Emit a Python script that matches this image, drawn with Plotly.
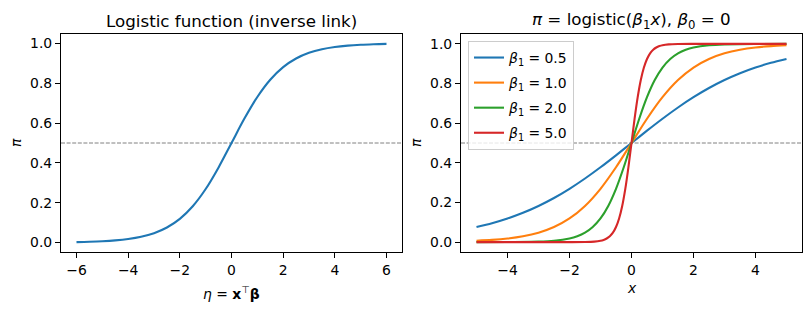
import plotly.graph_objects as go

# ---------------- data ----------------
eta = [-6, -5.5, -5, -4.5, -4, -3.5, -3, -2.5, -2, -1.5, -1, -0.5, 0,
       0.5, 1, 1.5, 2, 2.5, 3, 3.5, 4, 4.5, 5, 5.5, 6]
pi_eta = [0.0025, 0.0041, 0.0067, 0.0110, 0.0180, 0.0293, 0.0474, 0.0759, 0.1192, 0.1824, 0.2689, 0.3775, 0.5,
          0.6225, 0.7311, 0.8176, 0.8808, 0.9241, 0.9526, 0.9707, 0.9820, 0.9890, 0.9933, 0.9959, 0.9975]

x_b05 = [-5, -4.5, -4, -3.5, -3, -2.5, -2, -1.5, -1, -0.5, 0, 0.5, 1, 1.5, 2, 2.5, 3, 3.5, 4, 4.5, 5]
pi_b05 = [0.0759, 0.0953, 0.1192, 0.1480, 0.1824, 0.2227, 0.2689, 0.3208, 0.3775, 0.4378, 0.5,
          0.5622, 0.6225, 0.6792, 0.7311, 0.7773, 0.8176, 0.8520, 0.8808, 0.9047, 0.9241]

x_b10 = [-5, -4.5, -4, -3.5, -3, -2.5, -2, -1.5, -1, -0.5, 0, 0.5, 1, 1.5, 2, 2.5, 3, 3.5, 4, 4.5, 5]
pi_b10 = [0.0067, 0.0110, 0.0180, 0.0293, 0.0474, 0.0759, 0.1192, 0.1824, 0.2689, 0.3775, 0.5,
          0.6225, 0.7311, 0.8176, 0.8808, 0.9241, 0.9526, 0.9707, 0.9820, 0.9890, 0.9933]

x_b20 = [-5, -4, -3, -2.5, -2, -1.75, -1.5, -1.25, -1, -0.75, -0.5, -0.25, 0,
         0.25, 0.5, 0.75, 1, 1.25, 1.5, 1.75, 2, 2.5, 3, 4, 5]
pi_b20 = [0.0000, 0.0003, 0.0025, 0.0067, 0.0180, 0.0293, 0.0474, 0.0759, 0.1192, 0.1824, 0.2689, 0.3775, 0.5,
          0.6225, 0.7311, 0.8176, 0.8808, 0.9241, 0.9526, 0.9707, 0.9820, 0.9933, 0.9975, 0.9997, 1.0000]

x_b50 = [-5, -3, -2, -1.5, -1.2, -1, -0.9, -0.8, -0.7, -0.6, -0.5, -0.4, -0.3, -0.2, -0.1, 0,
         0.1, 0.2, 0.3, 0.4, 0.5, 0.6, 0.7, 0.8, 0.9, 1, 1.2, 1.5, 2, 3, 5]
pi_b50 = [0.0000, 0.0000, 0.0000, 0.0006, 0.0025, 0.0067, 0.0110, 0.0180, 0.0293, 0.0474, 0.0759, 0.1192, 0.1824, 0.2689, 0.3775, 0.5,
          0.6225, 0.7311, 0.8176, 0.8808, 0.9241, 0.9526, 0.9707, 0.9820, 0.9890, 0.9933, 0.9975, 0.9994, 1.0000, 1.0000, 1.0000]

beta_labels = ["0.5", "1.0", "2.0", "5.0"]
colors = ["#1f77b4", "#ff7f0e", "#2ca02c", "#d62728"]
ref_level = 0.5

titles = ["Logistic function (inverse link)",
          "<i>π</i> = logistic(<i>β</i><sub>1</sub><i>x</i>), <i>β</i><sub>0</sub> = 0"]
xlabels = ["<i>η</i> = <b>x</b><sup>⊤</sup><b>β</b>", "<i>x</i>"]
ylabel = "<i>π</i>"

# ---------------- figure ----------------
W, H = 811, 311
FONT = "DejaVu Sans"
fs = 13.9

fig = go.Figure()

fig.add_trace(go.Scatter(x=eta, y=pi_eta, mode="lines", line=dict(color=colors[0], width=2.1, shape="spline"),
                         showlegend=False, xaxis="x", yaxis="y"))

series = [(x_b05, pi_b05), (x_b10, pi_b10), (x_b20, pi_b20), (x_b50, pi_b50)]
for (xs, ys), lab, c in zip(series, beta_labels, colors):
    fig.add_trace(go.Scatter(x=xs, y=ys, mode="lines",
                             line=dict(color=c, width=2.1, shape="spline", smoothing=0.8),
                             name=f"<i>β</i><sub>1</sub> = {lab}", legendgroup=lab,
                             xaxis="x2", yaxis="y2"))

# reference dashed lines at pi = 0.5
for xr, yr in [("x domain", "y"), ("x2 domain", "y2")]:
    fig.add_shape(type="line", xref=xr, yref=yr, x0=0, x1=1, y0=ref_level, y1=ref_level,
                  line=dict(color="#808080", width=1, dash="4px,1.6px"), layer="below")

axis_common = dict(showgrid=False, zeroline=False, showline=True, mirror=True, linecolor="black",
                   linewidth=1.1, ticks="outside", ticklen=5, tickwidth=1.1, tickcolor="black",
                   tickfont=dict(family=FONT, size=fs, color="black"))

ydom = [(H - 252) / H, (H - 34) / H]
fig.update_layout(
    width=W, height=H, margin=dict(l=0, r=0, t=0, b=0),
    paper_bgcolor="white", plot_bgcolor="white",
    font=dict(family=FONT, size=fs, color="black"),
    xaxis=dict(domain=[61 / W, 402 / W], range=[-6.6, 6.6], tickvals=[-6, -4, -2, 0, 2, 4, 6],
               anchor="y", **axis_common),
    yaxis=dict(domain=ydom, range=[-0.0473, 1.0473], tickvals=[0, 0.2, 0.4, 0.6, 0.8, 1.0],
               tickformat=".1f", anchor="x", **axis_common),
    xaxis2=dict(domain=[461 / W, 802 / W], range=[-5.5, 5.5], tickvals=[-4, -2, 0, 2, 4],
                anchor="y2", **axis_common),
    yaxis2=dict(domain=ydom, range=[-0.05, 1.05], tickvals=[0, 0.2, 0.4, 0.6, 0.8, 1.0],
                tickformat=".1f", anchor="x2", **axis_common),
    legend=dict(x=468 / W, y=(H - 41) / H, xanchor="left", yanchor="top",
                bgcolor="rgba(255,255,255,0.8)", bordercolor="#cccccc", borderwidth=1,
                font=dict(family=FONT, size=fs, color="black"), tracegroupgap=4,
                itemwidth=30),
    showlegend=True,
)

annotations = [
    dict(text=titles[0], x=(61 + 402) / 2 / W, y=(H - 21) / H, xref="paper", yref="paper",
         showarrow=False, font=dict(family=FONT, size=16.7), xanchor="center", yanchor="middle"),
    dict(text=titles[1], x=(461 + 802) / 2 / W, y=(H - 21) / H, xref="paper", yref="paper",
         showarrow=False, font=dict(family=FONT, size=16.7), xanchor="center", yanchor="middle"),
    dict(text=xlabels[0], x=(61 + 402) / 2 / W, y=(H - 293) / H, xref="paper", yref="paper",
         showarrow=False, font=dict(family=FONT, size=fs), xanchor="center", yanchor="middle"),
    dict(text=xlabels[1], x=(461 + 802) / 2 / W, y=(H - 288) / H, xref="paper", yref="paper",
         showarrow=False, font=dict(family=FONT, size=fs), xanchor="center", yanchor="middle"),
    dict(text=ylabel, x=16 / W, y=(H - 143) / H, xref="paper", yref="paper", textangle=-90,
         showarrow=False, font=dict(family=FONT, size=fs), xanchor="center", yanchor="middle"),
    dict(text=ylabel, x=416 / W, y=(H - 143) / H, xref="paper", yref="paper", textangle=-90,
         showarrow=False, font=dict(family=FONT, size=fs), xanchor="center", yanchor="middle"),
]
fig.update_layout(annotations=annotations)

fig.write_html("out.html")
